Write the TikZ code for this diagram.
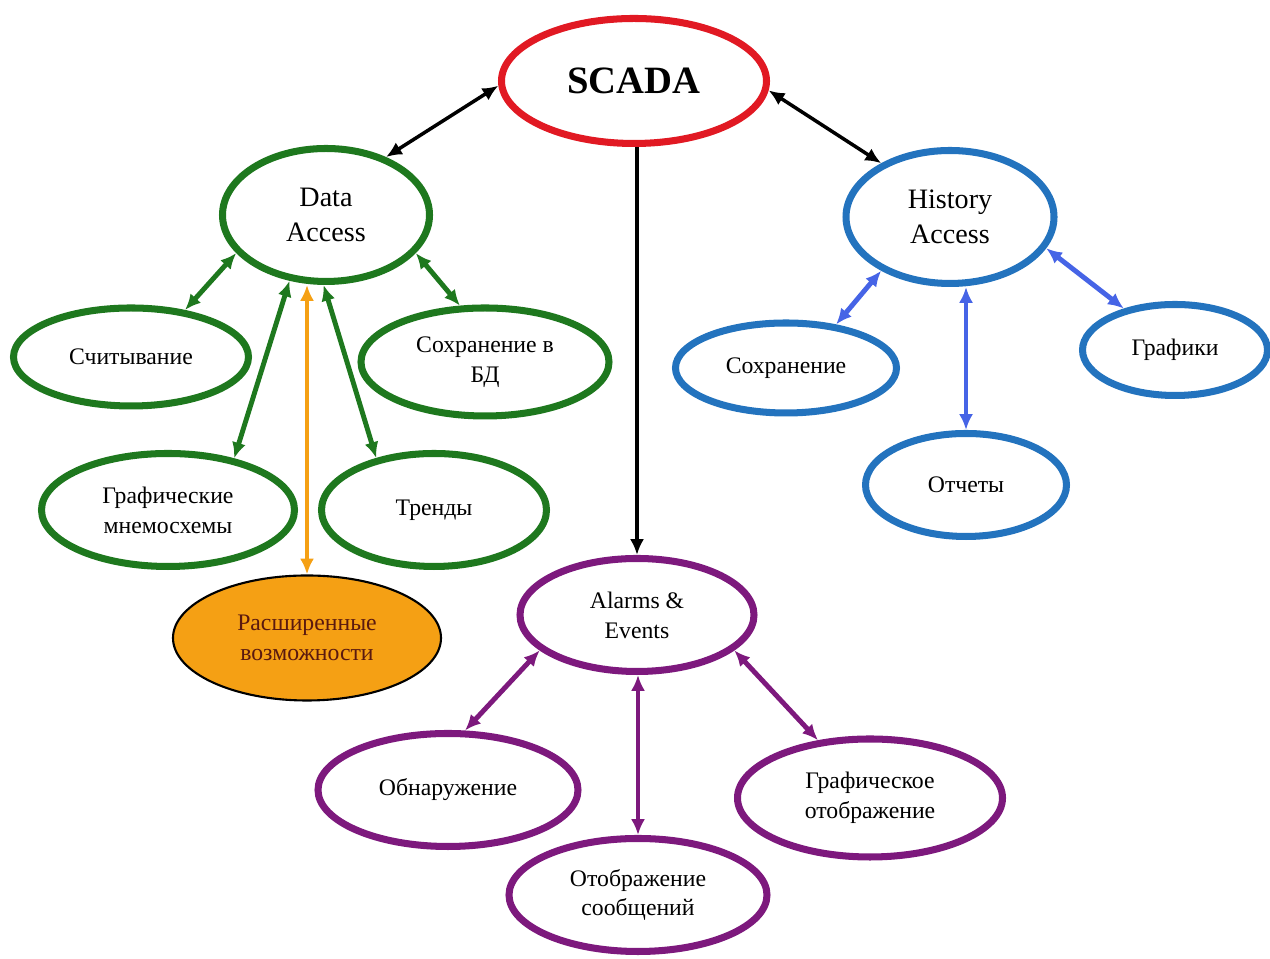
\documentclass[tikz,border=0pt]{standalone}
\usepackage{fontspec}
\setmainfont{Liberation Serif}
\usetikzlibrary{shapes.geometric, arrows.meta}
\tikzset{>={Latex[length=9pt, width=8pt]}}
\definecolor{scadared}{RGB}{225,25,35}
\definecolor{dagreen}{RGB}{30,120,30}
\definecolor{hablue}{RGB}{35,115,190}
\definecolor{haarrow}{RGB}{70,100,230}
\definecolor{aepurple}{RGB}{125,25,125}
\definecolor{extorange}{RGB}{245,160,20}
\definecolor{exttext}{RGB}{90,25,15}

\begin{document}
\begin{tikzpicture}[
    bubble/.style={ellipse, draw, line width=4pt, align=center, inner sep=0pt,
      font=\fontsize{13.5}{17}\selectfont},
    bigtext/.style={font=\fontsize{16}{20}\selectfont},
    link/.style={<->, line width=2.8pt},
    mainlink/.style={line width=2pt}
  ]

		\useasboundingbox (0,0) rectangle (25.4,19.18);

		% Top
		\node [bubble, draw=scadared, minimum width=5.30cm, minimum height=2.50cm,
		  font=\fontsize{22}{26}\selectfont\bfseries] (scada) at (12.68, 17.56) {SCADA};

		% Main groups
		\node [bubble, bigtext, draw=dagreen, minimum width=4.14cm, minimum height=2.66cm] (data) at (6.52, 14.88) {Data\\Access};
		\node [bubble, bigtext, draw=hablue, minimum width=4.16cm, minimum height=2.66cm] (hist) at (19.00, 14.84) {History\\Access};
		\node [bubble, draw=aepurple, minimum width=4.68cm, minimum height=2.26cm] (alarm) at (12.74, 6.88) {Alarms \&\\Events};

		% Data Access
		\node [bubble, draw=dagreen, minimum width=4.70cm, minimum height=1.96cm] (read) at (2.62, 12.04) {Считывание};
		\node [bubble, draw=dagreen, minimum width=4.96cm, minimum height=2.16cm] (savedb) at (9.70, 11.94) {Сохранение в\\БД};
		\node [bubble, draw=dagreen, minimum width=5.06cm, minimum height=2.26cm] (mnemo) at (3.36, 8.98) {Графические\\мнемосхемы};
		\node [bubble, draw=dagreen, minimum width=4.50cm, minimum height=2.26cm] (trend) at (8.68, 8.98) {Тренды};
		\node [bubble, draw=black, line width=1.2pt, fill=extorange, text=exttext,
		  minimum width=5.36cm, minimum height=2.50cm] (ext) at (6.14, 6.42) {Расширенные\\возможности};

		% History Access
		\node [bubble, draw=hablue, minimum width=4.42cm, minimum height=1.80cm] (save) at (15.72, 11.82) {Сохранение};
		\node [bubble, draw=hablue, minimum width=3.70cm, minimum height=1.82cm] (graph) at (23.50, 12.18) {Графики};
		\node [bubble, draw=hablue, minimum width=4.02cm, minimum height=2.06cm] (report) at (19.32, 9.48) {Отчеты};

		% Alarms & Events
		\node [bubble, draw=aepurple, minimum width=5.20cm, minimum height=2.26cm] (detect) at (8.96, 3.38) {Обнаружение};
		\node [bubble, draw=aepurple, minimum width=5.30cm, minimum height=2.36cm] (gdisp) at (17.40, 3.22) {Графическое\\отображение};
		\node [bubble, draw=aepurple, minimum width=5.16cm, minimum height=2.26cm] (msgs) at (12.76, 1.28) {Отображение\\сообщений};

		% SCADA links
		\draw [link, mainlink] (scada.182) -- (data.44);
		\draw [link, mainlink] (scada.356) -- (hist.142);
		\draw [<-, mainlink] (alarm.north) -- (alarm.north |- scada.south);

		% Data Access links
		\draw [link, dagreen] (data.203) -- (read.41);
		\draw [link, dagreen] (data.337) -- (savedb.114);
		\draw [link, dagreen] (data.241) -- (mnemo.38);
		\draw [link, dagreen] (data.268) -- (trend.138);
		\draw [link, mainlink, extorange] (ext.north) -- (ext.north |- data.south);

		% History Access links
		\draw [link, haarrow] (hist.218) -- (save.41);
		\draw [link, haarrow] (hist.342) -- (graph.141);
		\draw [link, haarrow] (report.north) -- (report.north |- hist.south);

		% Alarms & Events links
		\draw [link, aepurple] (alarm.200) -- (detect.74);
		\draw [link, aepurple] (alarm.340) -- (gdisp.132);
		\draw [link, aepurple] (msgs.north) -- (msgs.north |- alarm.south);

	\end{tikzpicture}
\end{document}
